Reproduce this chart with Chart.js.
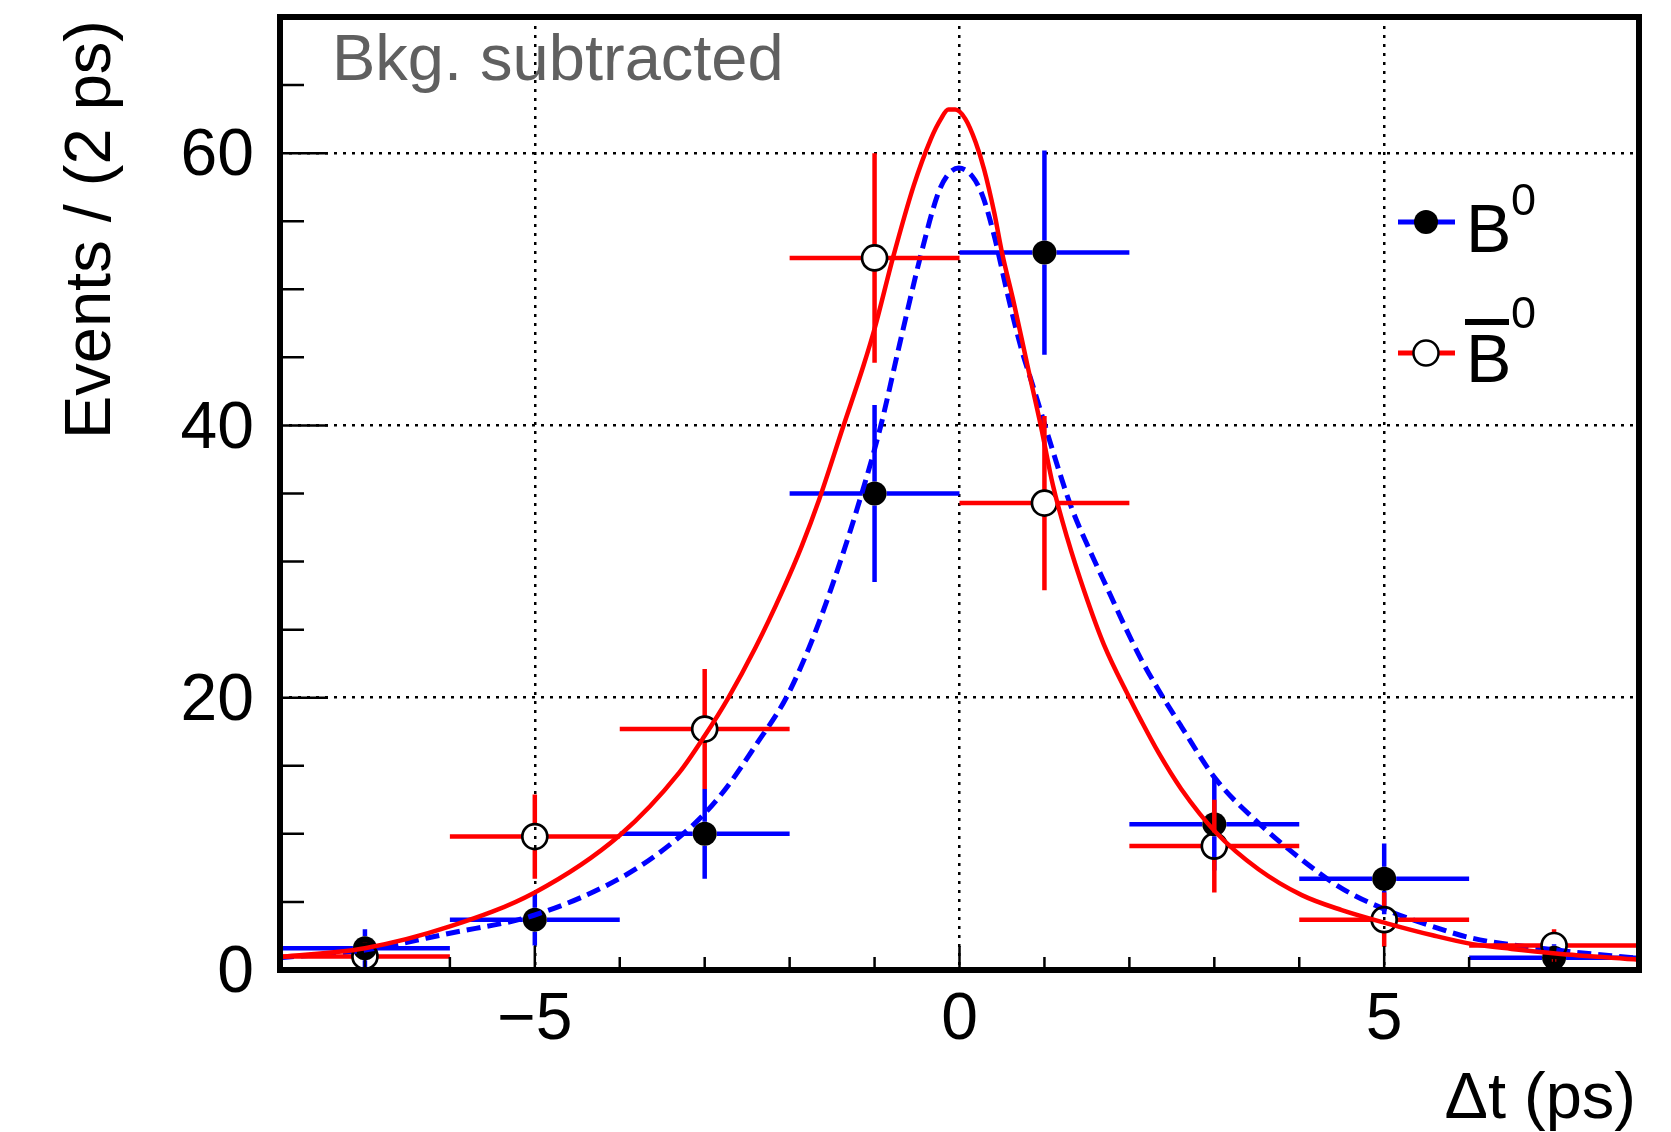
<!DOCTYPE html>
<html>
<head>
<meta charset="utf-8">
<script src="https://cdn.jsdelivr.net/npm/chart.js@4"></script>
<style>
  html, body { margin: 0; padding: 0; background: #fff; }
  #wrap { width: 1671px; height: 1132px; }
</style>
</head>
<body>
<div id="wrap"><canvas id="dt"></canvas></div>
<script>
// bin centres (ps), bin half width 1 ps
var tBins = [-7, -5, -3, -1, 1, 3, 5, 7]
var binHalf = 1

// B0 tagged events (filled points) and errors
var b0Vals = [1.6, 3.7, 10.0, 35.0, 52.7, 10.7, 6.7, 0.9]
var b0Errs = [1.4, 1.9, 3.3, 6.5, 7.5, 3.4, 2.6, 1.0]

// anti-B0 tagged events (open points) and errors
var b0barVals = [1.0, 9.8, 17.7, 52.3, 34.3, 9.1, 3.7, 1.8]
var b0barErrs = [1.0, 3.1, 4.4, 7.7, 6.4, 3.4, 2.0, 1.2]

// fit projections
var b0FitT = [-8, -7, -6, -5, -3.95, -3.33, -3.0, -2.73, -2.4, -2.04, -1.75, -1.49, -1.17, -0.93, -0.7, -0.46, -0.26, -0.15, -0.01, 0.15, 0.27, 0.41, 0.56, 0.72, 0.88, 1.08, 1.31, 1.55, 1.75, 1.95, 2.14, 2.34, 2.61, 3.02, 3.52, 4.03, 4.5, 5.03, 5.57, 6.04, 7.02, 8]
var b0FitY = [0.9, 1.47, 2.7, 4.04, 6.9, 9.6, 11.5, 13.5, 16.5, 20.0, 24.0, 28.4, 34.6, 39.9, 46.1, 52.4, 56.9, 58.3, 58.9, 58.3, 56.9, 53.9, 49.8, 45.8, 42.6, 38.5, 34.1, 30.6, 27.9, 25.2, 22.8, 20.6, 17.9, 14.0, 10.8, 8.1, 6.0, 4.4, 3.2, 2.33, 1.47, 0.86]

var b0barFitT = [-8, -7, -6, -5, -4.0, -3.3, -3.0, -2.73, -2.4, -2.08, -1.86, -1.65, -1.37, -1.13, -1.0, -0.78, -0.54, -0.34, -0.22, -0.13, -0.05, 0.07, 0.19, 0.29, 0.41, 0.5, 0.64, 0.8, 0.96, 1.1, 1.27, 1.47, 1.7, 2.0, 2.14, 2.34, 2.61, 3.02, 3.52, 4.03, 4.5, 5.03, 5.57, 6.04, 6.5, 7.02, 8]
var b0barFitY = [0.95, 1.6, 3.2, 5.7, 9.9, 14.5, 17.2, 19.9, 23.7, 27.9, 31.1, 34.6, 39.9, 44.4, 47.1, 52.4, 57.6, 61.0, 62.5, 63.2, 63.2, 62.5, 60.8, 58.8, 55.6, 52.7, 49.0, 44.4, 39.9, 35.6, 31.7, 27.8, 23.9, 20.0, 18.3, 16.0, 13.3, 10.1, 7.4, 5.5, 4.4, 3.43, 2.55, 1.9, 1.55, 1.22, 0.76]

var xTickLabels = {'-5': '\u22125', '0': '0', '5': '5'}
var yTickLabels = {'0': '0', '20': '20', '40': '40', '60': '60'}

var FONT = "'Liberation Sans', Arial, Helvetica, sans-serif"

function toXY(xs, ys) {
	return xs.map(function(x, i) { return {x: x, y: ys[i]} })
}

// horizontal + vertical error bars, with a gap round the marker
var errorBars = {
	id: 'errorBars',
	beforeDatasetDraw: function(chart, args) {
		var ds = chart.data.datasets[args.index]
		if (!ds.errors) return
		var ctx = chart.ctx
		var xs = chart.scales.x, ys = chart.scales.y
		var gap = ds.pointRadius
		ctx.save()
		ctx.beginPath()
		ctx.rect(chart.chartArea.left, chart.chartArea.top, chart.chartArea.right - chart.chartArea.left, chart.chartArea.bottom - chart.chartArea.top)
		ctx.clip()
		ctx.strokeStyle = ds.barColor
		ctx.lineWidth = 4.5
		ctx.lineCap = 'butt'
		ds.data.forEach(function(p, i) {
			var px = xs.getPixelForValue(p.x)
			var py = ys.getPixelForValue(p.y)
			var xl = xs.getPixelForValue(p.x - binHalf)
			var xr = xs.getPixelForValue(p.x + binHalf)
			var yt = ys.getPixelForValue(p.y + ds.errors[i])
			var yb = ys.getPixelForValue(p.y - ds.errors[i])
			ctx.beginPath()
			ctx.moveTo(xl, py); ctx.lineTo(px - gap, py)
			ctx.moveTo(px + gap, py); ctx.lineTo(xr, py)
			if (py - yt > gap) { ctx.moveTo(px, py - gap); ctx.lineTo(px, yt) }
			if (yb - py > gap) { ctx.moveTo(px, py + gap); ctx.lineTo(px, yb) }
			ctx.stroke()
		})
		ctx.restore()
	}
}

// frame, inside ticks, titles, label and legend
var decorations = {
	id: 'decorations',
	afterDraw: function(chart) {
		var ctx = chart.ctx
		var a = chart.chartArea
		var xs = chart.scales.x, ys = chart.scales.y
		ctx.save()

		// ticks pointing into the frame
		ctx.strokeStyle = '#000'
		ctx.lineWidth = 2.5
		ctx.beginPath()
		for (var v = 0; v <= 70; v += 5) {
			var py = ys.getPixelForValue(v)
			var len = (v % 20 === 0) ? 48 : 24
			ctx.moveTo(a.left, py); ctx.lineTo(a.left + len, py)
		}
		for (var t = -8; t <= 8; t += 1) {
			var px = xs.getPixelForValue(t)
			var l2 = (t % 5 === 0) ? 24 : 13
			ctx.moveTo(px, a.bottom); ctx.lineTo(px, a.bottom - l2)
		}
		ctx.stroke()

		// frame
		ctx.lineWidth = 6
		ctx.strokeRect(a.left, a.top, a.right - a.left, a.bottom - a.top)

		// axis titles
		ctx.fillStyle = '#000'
		ctx.font = '65px ' + FONT
		ctx.textBaseline = 'alphabetic'
		ctx.textAlign = 'right'
		ctx.fillText('\u0394t (ps)', 1636, 1118)

		ctx.save()
		ctx.translate(110, 20)
		ctx.rotate(-Math.PI / 2)
		ctx.textAlign = 'right'
		ctx.fillText('Events / (2 ps)', 0, 0)
		ctx.restore()

		// label
		ctx.textAlign = 'left'
		ctx.fillStyle = '#606060'
		ctx.fillText('Bkg. subtracted', 332, 80)

		// legend
		var lx0 = 1398, lx1 = 1455, mx = 1426
		var ly1 = 222, ly2 = 353
		ctx.lineWidth = 5
		ctx.strokeStyle = '#0000ff'
		ctx.beginPath(); ctx.moveTo(lx0, ly1); ctx.lineTo(lx1, ly1); ctx.stroke()
		ctx.fillStyle = '#000'
		ctx.beginPath(); ctx.arc(mx, ly1, 12, 0, Math.PI * 2); ctx.fill()

		ctx.strokeStyle = '#ff0000'
		ctx.beginPath(); ctx.moveTo(lx0, ly2); ctx.lineTo(lx1, ly2); ctx.stroke()
		ctx.strokeStyle = '#000'
		ctx.lineWidth = 2.5
		ctx.fillStyle = '#fff'
		ctx.beginPath(); ctx.arc(mx, ly2, 12.5, 0, Math.PI * 2); ctx.fill(); ctx.stroke()

		ctx.fillStyle = '#000'
		ctx.font = '68px ' + FONT
		ctx.fillText('B', 1466, 252)
		ctx.fillText('B', 1466, 382)
		ctx.font = '45px ' + FONT
		ctx.fillText('0', 1511, 215)
		ctx.fillText('0', 1511, 328)
		ctx.lineWidth = 6
		ctx.beginPath(); ctx.moveTo(1465, 322); ctx.lineTo(1509, 322); ctx.stroke()

		ctx.restore()
	}
}

var chart = new Chart(document.getElementById('dt'), {
	type: 'scatter',
	data: {
		datasets: [
			{
				label: 'B0',
				data: toXY(tBins, b0Vals),
				errors: b0Errs,
				barColor: '#0000ff',
				pointStyle: 'circle',
				pointRadius: 12,
				pointHoverRadius: 12,
				backgroundColor: '#000',
				borderWidth: 0,
				order: 4
			},
			{
				label: 'B0 fit',
				data: toXY(b0FitT, b0FitY),
				showLine: true,
				pointRadius: 0,
				borderColor: '#0000ff',
				borderWidth: 5,
				borderDash: [14, 7],
				cubicInterpolationMode: 'monotone',
				order: 3
			},
			{
				label: 'B0bar',
				data: toXY(tBins, b0barVals),
				errors: b0barErrs,
				barColor: '#ff0000',
				pointStyle: 'circle',
				pointRadius: 12.5,
				pointHoverRadius: 12.5,
				backgroundColor: 'rgba(0,0,0,0)',
				borderColor: '#000',
				borderWidth: 2.7,
				order: 2
			},
			{
				label: 'B0bar fit',
				data: toXY(b0barFitT, b0barFitY),
				showLine: true,
				pointRadius: 0,
				borderColor: '#ff0000',
				borderWidth: 4.5,
				cubicInterpolationMode: 'monotone',
				order: 1
			}
		]
	},
	options: {
		responsive: true,
		maintainAspectRatio: false,
		animation: false,
		events: [],
		layout: { padding: { top: 17, right: 32, left: 0, bottom: 0 } },
		plugins: {
			legend: { display: false },
			tooltip: { enabled: false }
		},
		scales: {
			x: {
				type: 'linear',
				min: -8,
				max: 8,
				afterFit: function(s) {
					s.height = 162
					s.paddingLeft = 0
					s.paddingRight = 0
				},
				border: { display: false, dash: [3, 6] },
				grid: {
					drawTicks: false,
					lineWidth: 2.5,
					color: function(c) {
						return (c.tick && c.tick.value % 5 === 0) ? '#000' : 'rgba(0,0,0,0)'
					}
				},
				ticks: {
					stepSize: 1,
					autoSkip: false,
					maxRotation: 0,
					padding: 11,
					color: '#000',
					font: { family: FONT, size: 66 },
					callback: function(v) { return xTickLabels[v] || '' }
				}
			},
			y: {
				type: 'linear',
				min: 0,
				max: 70,
				afterFit: function(s) {
					s.width = 280
					s.paddingTop = 0
					s.paddingBottom = 0
				},
				border: { display: false, dash: [3, 6] },
				grid: {
					drawTicks: false,
					lineWidth: 2.5,
					color: function(c) {
						return (c.tick && c.tick.value % 20 === 0 && c.tick.value !== 0) ? '#000' : 'rgba(0,0,0,0)'
					}
				},
				ticks: {
					stepSize: 5,
					autoSkip: false,
					padding: 26,
					labelOffset: 4,
					color: '#000',
					font: { family: FONT, size: 66 },
					callback: function(v) { return yTickLabels[v] || '' }
				}
			}
		}
	},
	plugins: [errorBars, decorations]
})
</script>
</body>
</html>
